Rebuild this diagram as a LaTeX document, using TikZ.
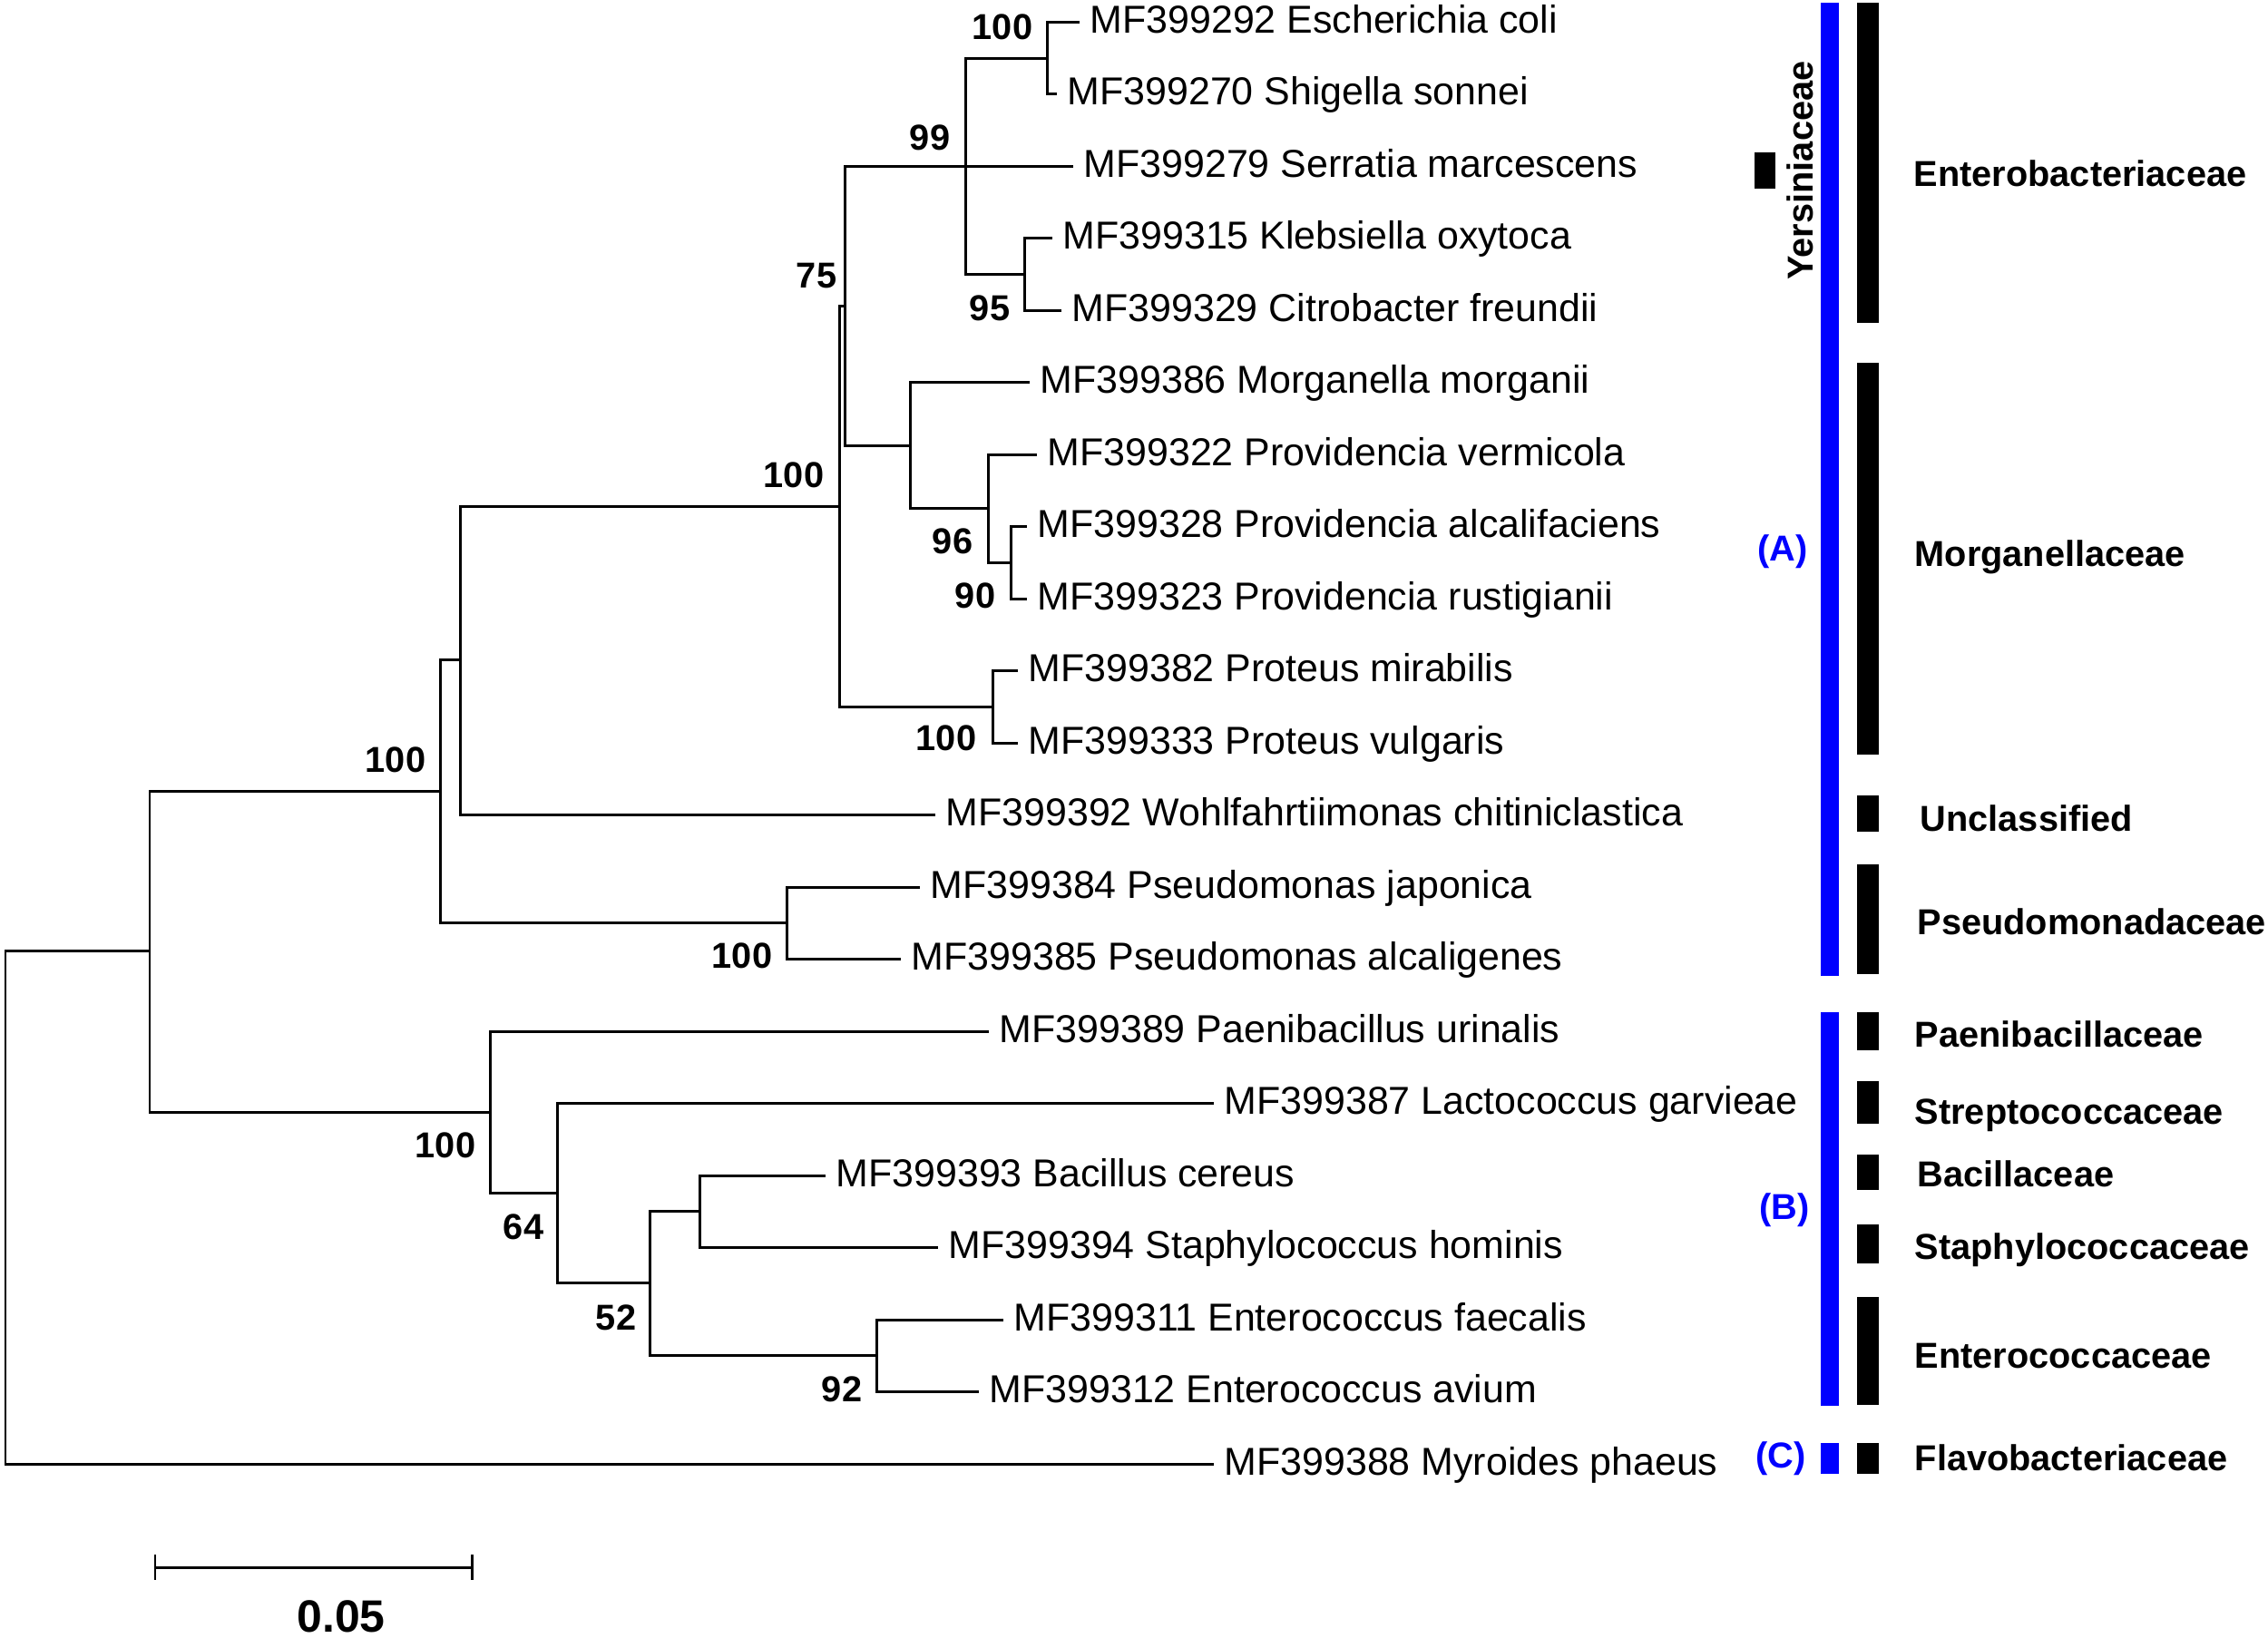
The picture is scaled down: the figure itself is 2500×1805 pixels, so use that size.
\documentclass[tikz,border=0pt]{standalone}
\usepackage{fontspec}
\setmainfont{Liberation Sans}
\begin{document}
\begin{tikzpicture}[x=0.01cm,y=-0.01cm,
  br/.style={line width=0.85pt},
  leaf/.style={anchor=base west, inner sep=0pt, font=\fontsize{12.2pt}{14pt}\selectfont},
  boot/.style={inner sep=0pt, font=\fontsize{11.3pt}{13pt}\selectfont\bfseries},
  fam/.style={anchor=base west, inner sep=0pt, font=\fontsize{11.3pt}{13pt}\selectfont\bfseries},
  grp/.style={inner sep=0pt, text=blue, font=\fontsize{11.3pt}{13pt}\selectfont\bfseries},
  bluebar/.style={fill=blue},
  blackbar/.style={fill=black}]
\useasboundingbox (0,0) rectangle (2500,1805);

% internal nodes
\coordinate (R) at (6,1331);
\coordinate (N1) at (165,1048);
\coordinate (N2) at (485,872);
\coordinate (N3) at (507,727);
\coordinate (N4) at (925,558);
\coordinate (N5) at (931,337);
\coordinate (N6) at (1064,183);
\coordinate (EcSh) at (1154,64);
\coordinate (KlCi) at (1129,302);
\coordinate (Mo) at (1003,491);
\coordinate (Pv) at (1089,560);
\coordinate (Pa) at (1114,620);
\coordinate (Pr) at (1094,779);
\coordinate (Ps) at (867,1017);
\coordinate (F) at (540,1226);
\coordinate (N64) at (614,1315);
\coordinate (N52) at (716,1414);
\coordinate (BS) at (771,1335);
\coordinate (En) at (966,1494);

% leaf ends
\coordinate (l1) at (1190,24);
\coordinate (l2) at (1165,103.5);
\coordinate (l3) at (1183,183);
\coordinate (l4) at (1160,262.5);
\coordinate (l5) at (1170,342);
\coordinate (l6) at (1135,421.5);
\coordinate (l7) at (1143,501);
\coordinate (l8) at (1132,580.5);
\coordinate (l9) at (1132,660);
\coordinate (l10) at (1122,739.5);
\coordinate (l11) at (1122,819);
\coordinate (l12) at (1031,898.5);
\coordinate (l13) at (1014,978);
\coordinate (l14) at (993,1057.5);
\coordinate (l15) at (1090,1137);
\coordinate (l16) at (1338,1216.5);
\coordinate (l17) at (910,1296);
\coordinate (l18) at (1034,1375.5);
\coordinate (l19) at (1106,1455);
\coordinate (l20) at (1079,1534.5);
\coordinate (l21) at (1338,1614);

% branches
\draw[br] (R) |- (N1) (R) |- (l21)
  (N1) |- (N2) (N1) |- (F)
  (N2) |- (N3) (N2) |- (Ps)
  (N3) |- (N4) (N3) |- (l12)
  (N4) |- (N5) (N4) |- (Pr)
  (N5) |- (N6) (N5) |- (Mo)
  (N6) |- (EcSh) (N6) -- (l3) (N6) |- (KlCi)
  (EcSh) |- (l1) (EcSh) |- (l2)
  (KlCi) |- (l4) (KlCi) |- (l5)
  (Mo) |- (l6) (Mo) |- (Pv)
  (Pv) |- (l7) (Pv) |- (Pa)
  (Pa) |- (l8) (Pa) |- (l9)
  (Pr) |- (l10) (Pr) |- (l11)
  (Ps) |- (l13) (Ps) |- (l14)
  (F) |- (l15) (F) |- (N64)
  (N64) |- (l16) (N64) |- (N52)
  (N52) |- (BS) (N52) |- (En)
  (BS) |- (l17) (BS) |- (l18)
  (En) |- (l19) (En) |- (l20);

% leaf labels
\node[leaf] (t1) at (1201,36) {MF399292 Escherichia coli};
\node[leaf] (t2) at (1176,115.5) {MF399270 Shigella sonnei};
\node[leaf] (t3) at (1194,195) {MF399279 Serratia marcescens};
\node[leaf] (t4) at (1171,274.5) {MF399315 Klebsiella oxytoca};
\node[leaf] (t5) at (1181,354) {MF399329 Citrobacter freundii};
\node[leaf] (t6) at (1146,433.5) {MF399386 Morganella morganii};
\node[leaf] (t7) at (1154,513) {MF399322 Providencia vermicola};
\node[leaf] (t8) at (1143,592.5) {MF399328 Providencia alcalifaciens};
\node[leaf] (t9) at (1143,672) {MF399323 Providencia rustigianii};
\node[leaf] (t10) at (1133,751.5) {MF399382 Proteus mirabilis};
\node[leaf] (t11) at (1133,831) {MF399333 Proteus vulgaris};
\node[leaf] (t12) at (1042,910.5) {MF399392 Wohlfahrtiimonas chitiniclastica};
\node[leaf] (t13) at (1025,990) {MF399384 Pseudomonas japonica};
\node[leaf] (t14) at (1004,1069.5) {MF399385 Pseudomonas alcaligenes};
\node[leaf] (t15) at (1101,1149) {MF399389 Paenibacillus urinalis};
\node[leaf] (t16) at (1349,1228.5) {MF399387 Lactococcus garvieae};
\node[leaf] (t17) at (921,1308) {MF399393 Bacillus cereus};
\node[leaf] (t18) at (1045,1387.5) {MF399394 Staphylococcus hominis};
\node[leaf] (t19) at (1117,1467) {MF399311 Enterococcus faecalis};
\node[leaf] (t20) at (1090,1546.5) {MF399312 Enterococcus avium};
\node[leaf] (t21) at (1349,1626) {MF399388 Myroides phaeus};

% bootstrap values
\node[boot] (b1) at (1105,30) {100};
\node[boot] (b2) at (1025,152) {99};
\node[boot] (b3) at (900,304) {75};
\node[boot] (b4) at (1091,340) {95};
\node[boot] (b5) at (875,524) {100};
\node[boot] (b6) at (1050,597) {96};
\node[boot] (b7) at (1075,657) {90};
\node[boot] (b8) at (1043,814) {100};
\node[boot] (b9) at (436,838) {100};
\node[boot] (b10) at (818,1054) {100};
\node[boot] (b11) at (491,1263) {100};
\node[boot] (b12) at (577,1353) {64};
\node[boot] (b13) at (679,1453) {52};
\node[boot] (b14) at (928,1532) {92};

% blue group bars
\fill[bluebar] (2007,3) rectangle (2027,1076);
\fill[bluebar] (2007,1116) rectangle (2027,1550);
\fill[bluebar] (2007,1591) rectangle (2027,1625);
\node[grp] (gA) at (1965,608) {(A)};
\node[grp] (gB) at (1967,1334) {(B)};
\node[grp] (gC) at (1963,1608) {(C)};

% family bars
\fill[blackbar] (2047,3) rectangle (2071,356);
\fill[blackbar] (2047,400) rectangle (2071,832);
\fill[blackbar] (2047,877) rectangle (2071,917);
\fill[blackbar] (2047,953) rectangle (2071,1074);
\fill[blackbar] (2047,1116) rectangle (2071,1158);
\fill[blackbar] (2047,1192) rectangle (2071,1239);
\fill[blackbar] (2047,1273) rectangle (2071,1312);
\fill[blackbar] (2047,1350) rectangle (2071,1393);
\fill[blackbar] (2047,1430) rectangle (2071,1549);
\fill[blackbar] (2047,1591) rectangle (2071,1625);
\fill[blackbar] (1934,168) rectangle (1957,208);

\node[inner sep=0pt, rotate=90, font=\fontsize{11.3pt}{13pt}\selectfont\bfseries] (yers) at (1984,188) {Yersiniaceae};

\node[fam] (f1) at (2109,205) {Enterobacteriaceae};
\node[fam] (f2) at (2110,624) {Morganellaceae};
\node[fam] (f3) at (2116,916) {Unclassified};
\node[fam] (f4) at (2113,1030) {Pseudomonadaceae};
\node[fam] (f5) at (2110,1154) {Paenibacillaceae};
\node[fam] (f6) at (2110,1239) {Streptococcaceae};
\node[fam] (f7) at (2113,1308) {Bacillaceae};
\node[fam] (f8) at (2110,1388) {Staphylococcaceae};
\node[fam] (f9) at (2110,1508) {Enterococcaceae};
\node[fam] (f10) at (2110,1621) {Flavobacteriaceae};

% scale bar
\draw[br] (171,1714) -- (171,1742) (171,1728) -- (520,1728) (520,1714) -- (520,1742);
\node[inner sep=0pt, font=\fontsize{14.2pt}{16pt}\selectfont\bfseries] (scale) at (376,1782) {0.05};
\end{tikzpicture}
\end{document}
